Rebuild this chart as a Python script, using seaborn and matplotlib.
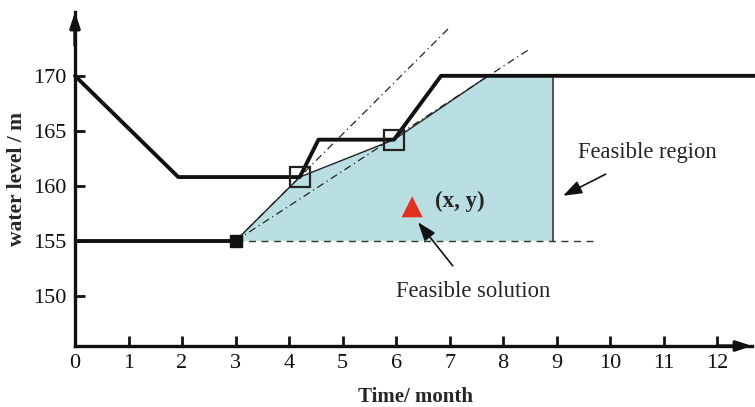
import matplotlib
matplotlib.use("Agg")
import matplotlib.pyplot as plt
import seaborn as sns
import pandas as pd

# Upper reservoir limit curve (time in months, water level in m)
upper_t = [0, 1.93, 4.2, 4.55, 5.96, 6.84, 12.72]
upper_lvl = [170, 160.8, 160.8, 164.2, 164.2, 170, 170]

# Lower limit before the feasible window
lower_t = [0, 3]
lower_lvl = [155, 155]

# Feasible region boundary
region_t = [3, 4.2, 5.96, 7.72, 8.93, 8.93]
region_lvl = [155, 160.8, 164.2, 170, 170, 155]

# Key points on the upper curve
key_t = [4.2, 5.96]
key_lvl = [160.8, 164.2]

# Dash-dot guide lines from the start point
guide_a_t = [3, 7.01]
guide_a_lvl = [155, 174.45]
guide_b_t = [3, 8.5]
guide_b_lvl = [155, 172.45]

# Dashed lower bound of the region
bound_t = [3, 9.76]
bound_lvl = [155, 155]

# Candidate solution
sol_t = [6.3]
sol_lvl = [158.1]

x_ticks = list(range(0, 13))
y_ticks = [150, 155, 160, 165, 170]

sns.set_style("ticks")
plt.rcParams["font.family"] = ["Liberation Serif", "DejaVu Serif"]

fig = plt.figure(figsize=(7.55, 4.07), dpi=100)
ax = fig.add_axes([75 / 755, (407 - 346) / 407, (752 - 75) / 755, (346 - 12) / 407])
ax.set_xlim(0, 12.65)
ax.set_ylim(145.45, 175.8)

fill_color = "#badfe3"
ax.fill(region_t, region_lvl, color=fill_color, lw=0, zorder=1)
ax.plot(region_t[:4], region_lvl[:4], color="#222222", lw=1.0, zorder=2)
ax.plot([8.93, 8.93], [155, 170], color="#444444", lw=1.3, zorder=2)
ax.plot(bound_t, bound_lvl, color="#333333", lw=1.0, ls=(0, (5, 4)), zorder=2)

dashdot = (0, (6, 3, 1, 3))
ax.plot(guide_a_t, guide_a_lvl, color="#222222", lw=0.9, ls=dashdot, zorder=2)
ax.plot(guide_b_t, guide_b_lvl, color="#222222", lw=0.9, ls=dashdot, zorder=2)

upper_df = pd.DataFrame({"t": upper_t, "lvl": upper_lvl})
lower_df = pd.DataFrame({"t": lower_t, "lvl": lower_lvl})
sns.lineplot(data=upper_df, x="t", y="lvl", sort=False, estimator=None,
             color="#111111", lw=2.8, ax=ax, zorder=3, clip_on=False)
sns.lineplot(data=lower_df, x="t", y="lvl", sort=False, estimator=None,
             color="#111111", lw=2.8, ax=ax, zorder=3)

ax.plot([3], [155], marker="s", ms=8, color="#111111", zorder=4)
ax.plot(key_t, key_lvl, ls="none", marker="s", ms=14, mfc="none",
        mec="#222222", mew=1.6, zorder=4)
sns.scatterplot(x=sol_t, y=sol_lvl, marker="^", s=230, color="#e0301e",
                edgecolor="none", ax=ax, zorder=5)

ax.text(6.72, 158.55, "(x, y)", fontsize=16.5, fontweight="bold", va="center", ha="left")
ax.annotate("Feasible solution", xy=(6.41, 156.7), xytext=(7.44, 150.4),
            fontsize=16.3, ha="center", va="center",
            arrowprops=dict(arrowstyle="-|>,head_length=0.7,head_width=0.25",
                            color="#111111", lw=1.2, shrinkA=11, shrinkB=0))
ax.annotate("Feasible region", xy=(9.12, 159.1), xytext=(10.7, 163.0),
            fontsize=16.3, ha="center", va="center",
            arrowprops=dict(arrowstyle="-|>,head_length=0.7,head_width=0.25",
                            color="#111111", lw=1.2, shrinkA=12, shrinkB=0))

# Axes with arrow heads
for s in ["top", "right"]:
    ax.spines[s].set_visible(False)
for s in ["left", "bottom"]:
    ax.spines[s].set_linewidth(2.4)
    ax.spines[s].set_color("#111111")
ax.annotate("", xy=(0, 1.0), xytext=(0, 0.9), xycoords="axes fraction",
            arrowprops=dict(arrowstyle="-|>,head_length=0.9,head_width=0.3",
                            color="#111111", lw=2.4, shrinkA=0, shrinkB=0))
ax.annotate("", xy=(1.0, 0), xytext=(0.95, 0), xycoords="axes fraction",
            arrowprops=dict(arrowstyle="-|>,head_length=0.9,head_width=0.3",
                            color="#111111", lw=2.4, shrinkA=0, shrinkB=0))

ax.set_xticks(x_ticks)
ax.set_yticks(y_ticks)
ax.set_xticklabels([str(v) for v in x_ticks])
ax.set_yticklabels([str(v) for v in y_ticks])
ax.tick_params(direction="in", length=7, width=2, colors="#111111",
               labelsize=16, pad=6)
ax.set_xlabel("")
ax.set_ylabel("")

fig.text(17 / 755, (407 - 179) / 407, "water level / m", rotation=90,
         fontsize=15.5, fontweight="bold", ha="center", va="center")
fig.text(416 / 755, (407 - 397) / 407, "Time/ month",
         fontsize=15, fontweight="bold", ha="center", va="center")

fig.savefig("out.png", dpi=100)
